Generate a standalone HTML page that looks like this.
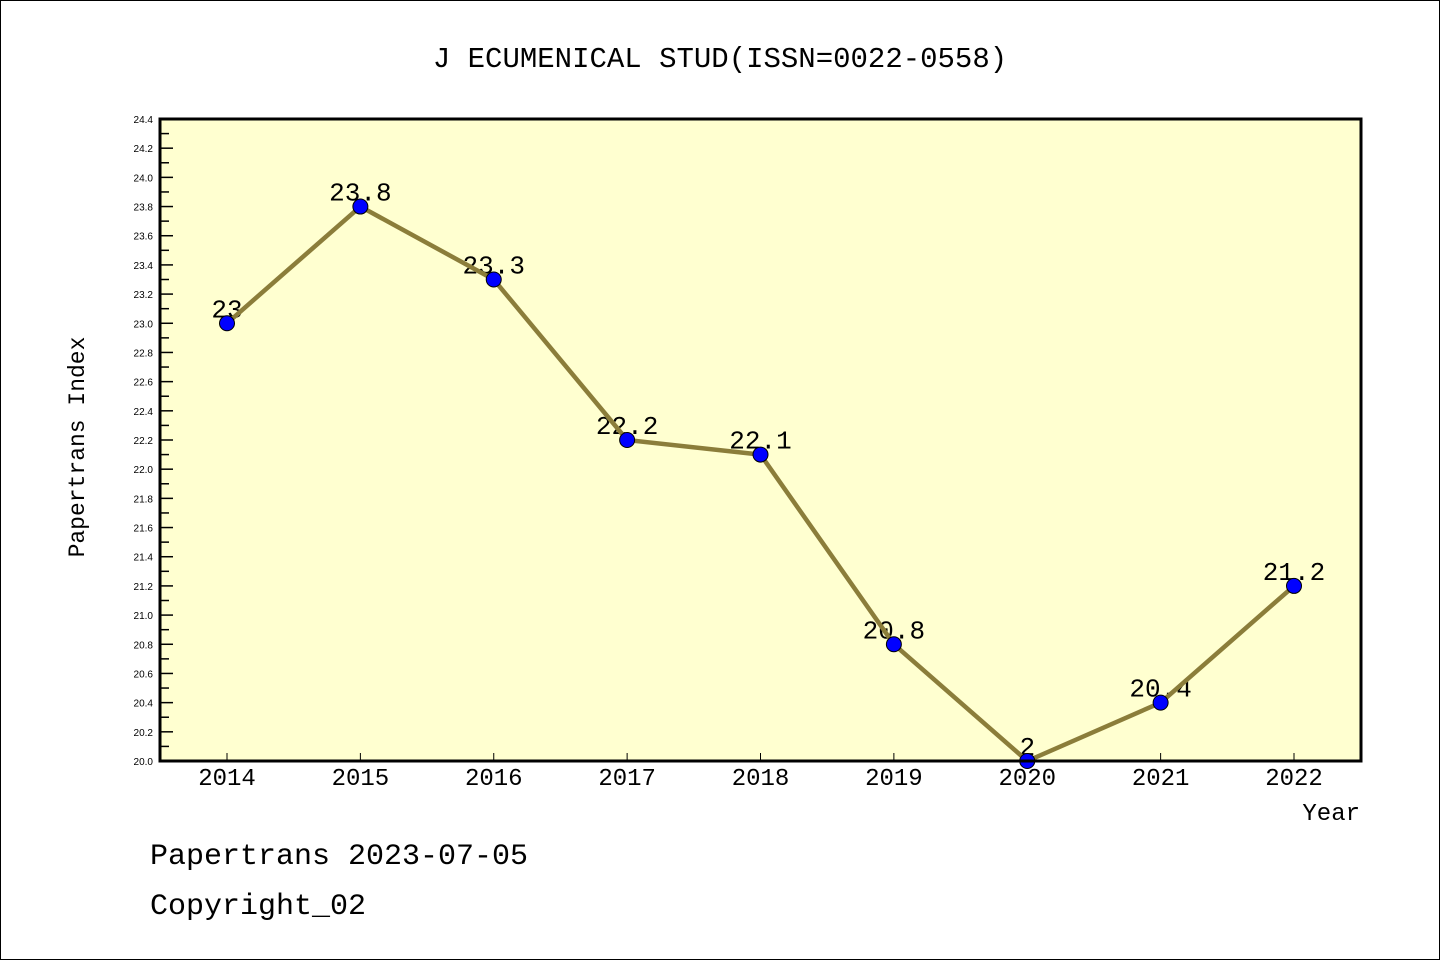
<!DOCTYPE html>
<html><head><meta charset="utf-8"><style>
html,body{margin:0;padding:0;background:#fff}
svg{display:block}
</style></head><body>
<svg id="chart" width="1440" height="960" xmlns="http://www.w3.org/2000/svg" font-family="'Liberation Mono','WenQuanYi Zen Hei',monospace">
<rect x="0.5" y="0.5" width="1439" height="959" fill="#fff" stroke="#000" stroke-width="1"/>
<text x="720" y="67" font-size="29" text-anchor="middle">J ECUMENICAL STUD(ISSN=0022-0558)</text>
<rect x="160" y="119" width="1201" height="642" fill="#ffffd0"/>
<g id="ticks"></g>
<g id="series"></g>
<rect x="160" y="119" width="1201" height="642" fill="none" stroke="#000" stroke-width="3"/>
<text transform="translate(84,447) rotate(-90)" font-size="23" text-anchor="middle">Papertrans Index</text>
<text x="1360" y="820" font-size="24" text-anchor="end">Year</text>
<text x="150" y="864" font-size="30">Papertrans 2023-07-05</text>
<text x="150" y="914" font-size="30">Copyright_02</text>
</svg>
<script>
const categories = ["2014","2015","2016","2017","2018","2019","2020","2021","2022"];
const values = [23, 23.8, 23.3, 22.2, 22.1, 20.8, 20, 20.4, 21.2];
const valueLabels = ["23","23.8","23.3","22.2","22.1","20.8","2","20.4","21.2"];
const yTickLabels = ["20.0","20.2","20.4","20.6","20.8","21.0","21.2","21.4","21.6","21.8","22.0","22.2","22.4","22.6","22.8","23.0","23.2","23.4","23.6","23.8","24.0","24.2","24.4"];
const yMin = 20.0, yMax = 24.4;
const NS = "http://www.w3.org/2000/svg";
const L=160,R=1361,T=119,B=761;
function y(v){return B-(v-yMin)/(yMax-yMin)*(B-T);}
function x(i){return 227+i*(1294-227)/(categories.length-1);}
function mk(tag,attrs,parent){const e=document.createElementNS(NS,tag);for(const k in attrs)e.setAttribute(k,attrs[k]);parent.appendChild(e);return e;}
const tg=document.getElementById('ticks');
for(let k=0;k<=(yMax-yMin)/0.1+0.001;k++){
  const v=yMin+k*0.1;const yy=y(v);const major=k%2===0;
  const t=mk('line',{x1:L,x2:L+(major?13:9),y1:yy,y2:yy,stroke:'#000','stroke-width':1.5},tg);
  
  
}
yTickLabels.forEach(s=>{
  const tx=mk('text',{x:153,y:y(parseFloat(s))+4,'font-size':10,'text-anchor':'end','font-family':"'Liberation Sans',sans-serif"},tg);
  tx.textContent=s;
  
  
});
categories.forEach((c,i)=>{
  const t=mk('line',{x1:x(i),x2:x(i),y1:B,y2:B-8,stroke:'#000','stroke-width':1},tg);
  
  
  const tx=mk('text',{x:x(i),y:785,'font-size':24,'text-anchor':'middle'},tg);
  tx.textContent=c;
  
  
});
const sg=document.getElementById('series');
values.forEach((v,i)=>{
  const tx=mk('text',{x:x(i),y:y(v)-6,'font-size':26,'text-anchor':'middle'},sg);
  tx.textContent=valueLabels[i];
  
  
});
const pl=mk('polyline',{points:values.map((v,i)=>x(i)+','+y(v)).join(' '),fill:'none',stroke:'#8b7d3a','stroke-width':4.5,'stroke-linejoin':'round'},sg);


values.forEach((v,i)=>{
  const c=mk('circle',{cx:x(i),cy:y(v),r:7.5,fill:'#0000ff',stroke:'#000','stroke-width':1},sg);
  
  
});
</script>
</body></html>
